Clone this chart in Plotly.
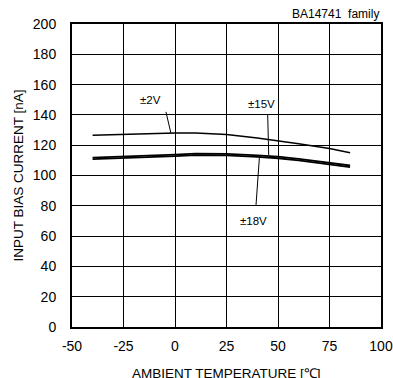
import plotly.graph_objects as go

temp = [-40, -25, -10, 0, 10, 25, 40, 50, 60, 75, 85]
v2 = [126.5, 127.2, 127.8, 128.0, 128.0, 127.0, 124.8, 123.0, 121.0, 117.8, 115.0]
v15 = [111.8, 112.4, 113.2, 113.8, 114.4, 114.3, 113.3, 112.4, 111.0, 108.6, 106.6]
v18 = [110.8, 111.4, 112.2, 112.8, 113.4, 113.3, 112.3, 111.4, 110.0, 107.6, 105.6]

x_ticks = [-50, -25, 0, 25, 50, 75, 100]
y_ticks = [0, 20, 40, 60, 80, 100, 120, 140, 160, 180, 200]

fig = go.Figure()
fig.add_trace(go.Scatter(x=temp, y=v2, mode="lines", line=dict(color="black", width=1.5), name="±2V"))
fig.add_trace(go.Scatter(x=temp, y=v15, mode="lines", line=dict(color="black", width=1.8), name="±15V"))
fig.add_trace(go.Scatter(x=temp, y=v18, mode="lines", line=dict(color="black", width=1.8), name="±18V"))

font = dict(family="Liberation Sans, Arial, sans-serif", size=14, color="black")

W, H = 393, 378
L, R, T, B = 72, 12, 24, 51
pw, ph = W - L - R, H - T - B

fig.update_layout(
    width=W, height=H,
    margin=dict(l=L, r=R, t=T, b=B, autoexpand=False),
    paper_bgcolor="white", plot_bgcolor="white",
    showlegend=False,
    font=font,
    xaxis=dict(range=[-50, 100], tickvals=x_ticks, ticktext=[str(v) for v in x_ticks],
               showgrid=True, gridcolor="black", gridwidth=1, zeroline=False,
               showline=True, linecolor="black", linewidth=2, mirror=True,
               ticks="", ticklabelstandoff=5, automargin=False),
    yaxis=dict(range=[0, 200], tickvals=y_ticks, ticktext=[str(v) for v in y_ticks],
               showgrid=True, gridcolor="black", gridwidth=1, zeroline=False,
               showline=True, linecolor="black", linewidth=2, mirror=True,
               ticks="", ticklabelstandoff=11, automargin=False),
)

# axis titles
fig.add_annotation(x=0.5, y=-(373 - (T + ph)) / ph, xref="paper", yref="paper",
                   xanchor="center", yanchor="middle", showarrow=False,
                   text="AMBIENT TEMPERATURE [℃]", font=dict(size=13.5))
fig.add_annotation(x=(18 - L) / pw, y=0.5, xref="paper", yref="paper",
                   xanchor="center", yanchor="middle", showarrow=False, textangle=-90,
                   text="INPUT BIAS CURRENT [nA]", font=dict(size=13.5))

# leader lines and labels
fig.add_shape(type="line", x0=-4.4, y0=142, x1=-2, y1=128, line=dict(color="black", width=1))
fig.add_annotation(x=-12, y=150, text="±2V", showarrow=False, font=dict(size=11.5))
fig.add_shape(type="line", x0=45, y0=140, x1=45.5, y1=113.5, line=dict(color="black", width=1))
fig.add_annotation(x=42, y=147, text="±15V", showarrow=False, font=dict(size=11.5))
fig.add_shape(type="line", x0=39.3, y0=80, x1=41, y1=112.5, line=dict(color="black", width=1))
fig.add_annotation(x=38, y=70, text="±18V", showarrow=False, font=dict(size=11.5))

fig.add_annotation(x=1, y=1, xref="paper", yref="paper", xanchor="right", yanchor="bottom",
                   text="BA14741  family", showarrow=False, font=dict(size=12), yshift=1)

fig.write_html("out.html", config={"displayModeBar": False},
               post_script="document.body.style.margin='0px';document.body.style.overflow='hidden';")
